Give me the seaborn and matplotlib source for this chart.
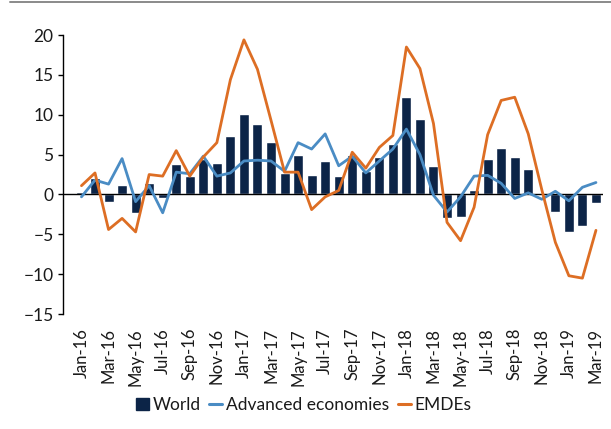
import numpy as np
import pandas as pd
import matplotlib
matplotlib.use('Agg')
import matplotlib.pyplot as plt
from matplotlib.lines import Line2D
from matplotlib.patches import Patch
import seaborn as sns

# Monthly data, Jan-16 to Mar-19
months = ['Jan-16', 'Feb-16', 'Mar-16', 'Apr-16', 'May-16', 'Jun-16', 'Jul-16', 'Aug-16',
          'Sep-16', 'Oct-16', 'Nov-16', 'Dec-16', 'Jan-17', 'Feb-17', 'Mar-17', 'Apr-17',
          'May-17', 'Jun-17', 'Jul-17', 'Aug-17', 'Sep-17', 'Oct-17', 'Nov-17', 'Dec-17',
          'Jan-18', 'Feb-18', 'Mar-18', 'Apr-18', 'May-18', 'Jun-18', 'Jul-18', 'Aug-18',
          'Sep-18', 'Oct-18', 'Nov-18', 'Dec-18', 'Jan-19', 'Feb-19', 'Mar-19']

world = [0.3, 2.1, -0.9, 1.2, -2.3, 1.5, -0.4, 3.8, 2.3, 4.5, 3.9, 7.3, 10.1, 8.8, 6.6, 2.7,
         5.0, 2.4, 4.2, 2.3, 5.0, 2.9, 4.7, 6.3, 12.2, 9.5, 3.6, -2.9, -2.8, 0.5, 4.4, 5.8,
         4.7, 3.2, 0.1, -2.2, -4.7, -4.0, -1.1]

advanced = [-0.3, 1.8, 1.3, 4.5, -0.9, 1.1, -2.3, 2.8, 2.6, 4.8, 2.3, 2.7, 4.2, 4.3, 4.2, 2.9,
            6.5, 5.7, 7.6, 3.6, 4.8, 2.7, 4.2, 5.7, 8.2, 5.0, -0.1, -2.2, -0.3, 2.3, 2.4, 1.4,
            -0.5, 0.2, -0.6, 0.4, -0.8, 0.9, 1.5]

emdes = [1.1, 2.7, -4.4, -3.0, -4.7, 2.5, 2.3, 5.5, 2.3, 4.7, 6.5, 14.4, 19.4, 15.7, 9.3, 2.8,
         2.8, -1.9, -0.3, 0.5, 5.3, 3.3, 5.9, 7.4, 18.5, 15.8, 8.9, -3.5, -5.8, -1.6, 7.5, 11.8,
         12.2, 7.6, 0.6, -6.0, -10.2, -10.5, -4.5]

df = pd.DataFrame({'Month': months, 'World': world,
                   'Advanced economies': advanced, 'EMDEs': emdes})
df['pos'] = df.index

navy = '#0c2447'
blue = '#4a8cc4'
orange = '#dd6e24'

sns.set_theme(style='white')
plt.rcParams['font.family'] = ['Lato', 'DejaVu Sans']

fig = plt.figure(figsize=(6.11, 4.29), dpi=100)
ax = fig.add_axes([0.1023, 0.268, 0.8846, 0.6503])

sns.barplot(data=df, x='Month', y='World', color=navy, width=0.74,
            saturation=1, ax=ax, zorder=2)
ax.axhline(0, color='black', lw=1, zorder=3)
sns.lineplot(data=df, x='pos', y='Advanced economies', color=blue, lw=2.0,
             sort=False, ax=ax, zorder=4)
sns.lineplot(data=df, x='pos', y='EMDEs', color=orange, lw=2.0,
             sort=False, ax=ax, zorder=5)

ax.set_xlim(-1.4, 38.52)
ax.set_ylim(-15, 20)
ax.set_yticks(np.arange(-15, 21, 5))
ax.set_xticks(df['pos'][::2])
ax.set_xticklabels(df['Month'][::2], rotation=90)
ax.set_xlabel('')
ax.set_ylabel('')

for s in ['top', 'right', 'bottom']:
    ax.spines[s].set_visible(False)
ax.spines['left'].set_color('black')
ax.spines['left'].set_linewidth(1)

ax.tick_params(axis='y', left=True, direction='out', length=3.5, width=1,
               color='black', pad=3, labelsize=12.5, labelcolor='#1a1a1a')
ax.tick_params(axis='x', bottom=False, length=0, pad=10, labelsize=12,
               labelcolor='#1a1a1a')
ax.grid(False)

handles = [Patch(facecolor=navy, edgecolor=navy),
           Line2D([0], [0], color=blue, lw=2.2),
           Line2D([0], [0], color=orange, lw=2.2)]
fig.legend(handles, ['World', 'Advanced economies', 'EMDEs'],
           loc='center', bbox_to_anchor=(0.497, 0.056), ncol=3, frameon=False,
           fontsize=12.5, handlelength=0.75, handleheight=0.75, handletextpad=0.2,
           columnspacing=0.5, borderpad=0.2, labelcolor='#1a1a1a')

# thin grey rule along the top of the figure
fig.add_artist(Line2D([0.016, 1.0], [0.9965, 0.9965], color='#8a8a8a', lw=1.4,
                      transform=fig.transFigure))

fig.savefig('out.png', dpi=100)
